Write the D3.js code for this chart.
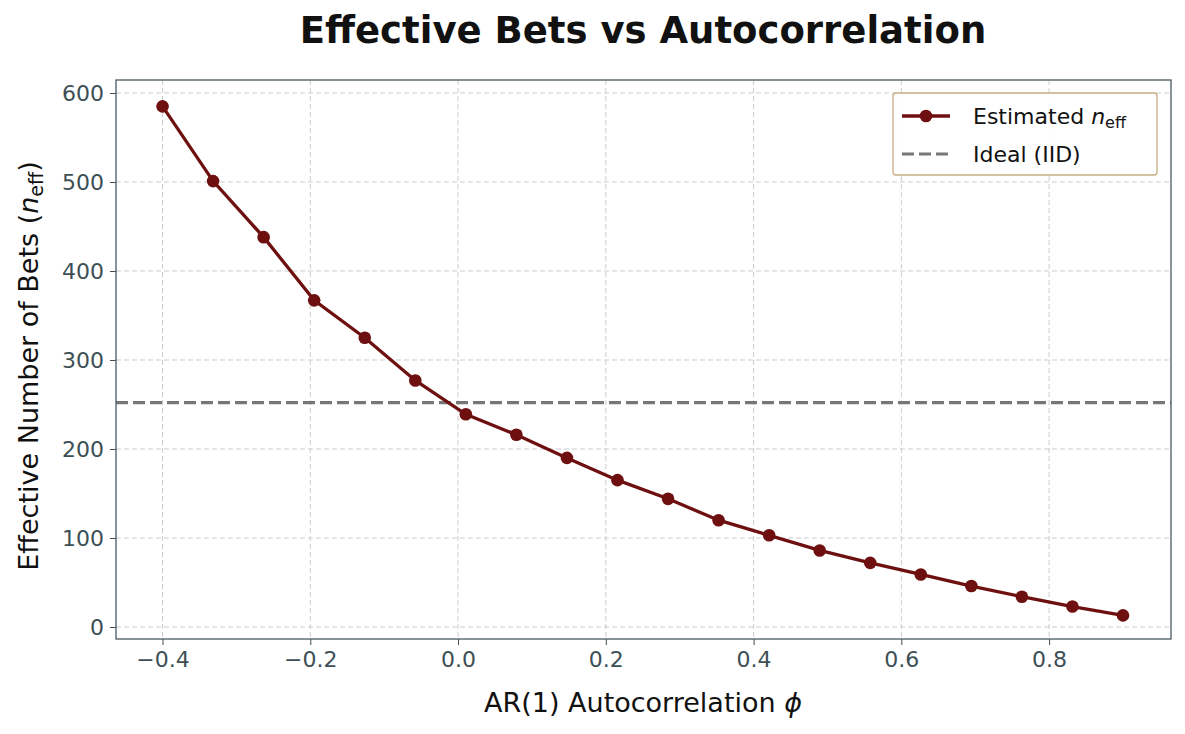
<!DOCTYPE html>
<html><head><meta charset="utf-8">
<script src="https://cdn.jsdelivr.net/npm/d3@7"></script>
<style>body{margin:0;background:#fff;font-family:"DejaVu Sans",sans-serif;}</style>
</head><body><svg id="c" width="1185" height="734"></svg>
<script>
const phi = d3.range(20).map(i => -0.4 + i * 1.3 / 19);
const neff = [585, 501, 438, 367, 325, 277, 239, 216, 190, 165, 144, 120, 103, 86, 72, 59, 46, 34, 23, 13];
const ideal = 252;
const xTicks = [-0.4, -0.2, 0.0, 0.2, 0.4, 0.6, 0.8];
const yTicks = [0, 100, 200, 300, 400, 500, 600];

const svg = d3.select("#c");
const L = 116, R = 1171, T = 80, B = 639;
const x = d3.scaleLinear().domain([-0.463, 0.965]).range([L, R]);
const y = d3.scaleLinear().domain([-13.5, 614.6]).range([B, T]);
const tc = "#3d4f55";

const g = svg.append("g");
g.selectAll(".gx").data(xTicks).enter().append("line")
  .attr("x1", d => x(d)).attr("x2", d => x(d)).attr("y1", T).attr("y2", B)
  .attr("stroke", "#ccc").attr("stroke-dasharray", "5,3").attr("stroke-width", 1);
g.selectAll(".gy").data(yTicks).enter().append("line")
  .attr("y1", d => y(d)).attr("y2", d => y(d)).attr("x1", L).attr("x2", R)
  .attr("stroke", "#ccc").attr("stroke-dasharray", "5,3").attr("stroke-width", 1);

const fmt = d => (d < 0 ? "\u2212" : "") + Math.abs(d).toFixed(1);
const xa = svg.append("g").attr("transform", `translate(0,${B})`)
  .call(d3.axisBottom(x).tickValues(xTicks).tickFormat(fmt).tickSize(6).tickPadding(6));
const ya = svg.append("g").attr("transform", `translate(${L},0)`)
  .call(d3.axisLeft(y).tickValues(yTicks).tickSize(6).tickPadding(6));
[xa, ya].forEach(a => {
  a.select(".domain").remove();
  a.selectAll("line").attr("stroke", tc);
  a.selectAll("text").attr("fill", tc).style("font-size", "22px").style("font-family", "DejaVu Sans");
});

svg.append("line").attr("x1", L).attr("x2", R).attr("y1", y(ideal)).attr("y2", y(ideal))
  .attr("stroke", "#777").attr("stroke-width", 3.2).attr("stroke-dasharray", "12,5");

const col = "#6e1010";
svg.append("path").datum(phi.map((p, i) => [p, neff[i]]))
  .attr("d", d3.line().x(d => x(d[0])).y(d => y(d[1])))
  .attr("fill", "none").attr("stroke", col).attr("stroke-width", 3.3);
svg.selectAll(".pt").data(neff).enter().append("circle")
  .attr("cx", (d, i) => x(phi[i])).attr("cy", d => y(d)).attr("r", 6.3).attr("fill", col);

svg.append("rect").attr("x", L).attr("y", T).attr("width", R - L).attr("height", B - T)
  .attr("fill", "none").attr("stroke", "#4a5a60").attr("stroke-width", 1.3);

svg.append("text").attr("x", 643).attr("y", 43).attr("text-anchor", "middle")
  .style("font-size", "37px").style("font-weight", "bold").attr("fill", "#111")
  .text("Effective Bets vs Autocorrelation");
const xl = svg.append("text").attr("x", 643).attr("y", 712).attr("text-anchor", "middle")
  .style("font-size", "27px").attr("fill", "#111");
xl.append("tspan").text("AR(1) Autocorrelation ");
xl.append("tspan").style("font-style", "italic").text("\u03d5");
const yl = svg.append("text").attr("transform", "translate(38,366) rotate(-90)").attr("text-anchor", "middle")
  .style("font-size", "27px").attr("fill", "#111");
yl.append("tspan").text("Effective Number of Bets (");
yl.append("tspan").style("font-style", "italic").text("n");
yl.append("tspan").attr("dy", 5).style("font-size", "19px").text("eff");
yl.append("tspan").attr("dy", -5).text(")");

const lg = svg.append("g");
lg.append("rect").attr("x", 893).attr("y", 93).attr("width", 264).attr("height", 82).attr("rx", 3)
  .attr("fill", "#fff").attr("fill-opacity", 0.9).attr("stroke", "#c8ad85").attr("stroke-width", 1.3);
lg.append("line").attr("x1", 902).attr("x2", 950).attr("y1", 116).attr("y2", 116).attr("stroke", col).attr("stroke-width", 3.3);
lg.append("circle").attr("cx", 926).attr("cy", 116).attr("r", 6.3).attr("fill", col);
lg.append("line").attr("x1", 902).attr("x2", 950).attr("y1", 154).attr("y2", 154).attr("stroke", "#777").attr("stroke-width", 3.2).attr("stroke-dasharray", "12,5");
const t1 = lg.append("text").attr("x", 973).attr("y", 124).style("font-size", "22px").attr("fill", "#111");
t1.append("tspan").text("Estimated ");
t1.append("tspan").style("font-style", "italic").text("n");
t1.append("tspan").attr("dy", 4).style("font-size", "16px").text("eff");
lg.append("text").attr("x", 973).attr("y", 162).style("font-size", "22px").attr("fill", "#111").text("Ideal (IID)");
</script></body></html>
